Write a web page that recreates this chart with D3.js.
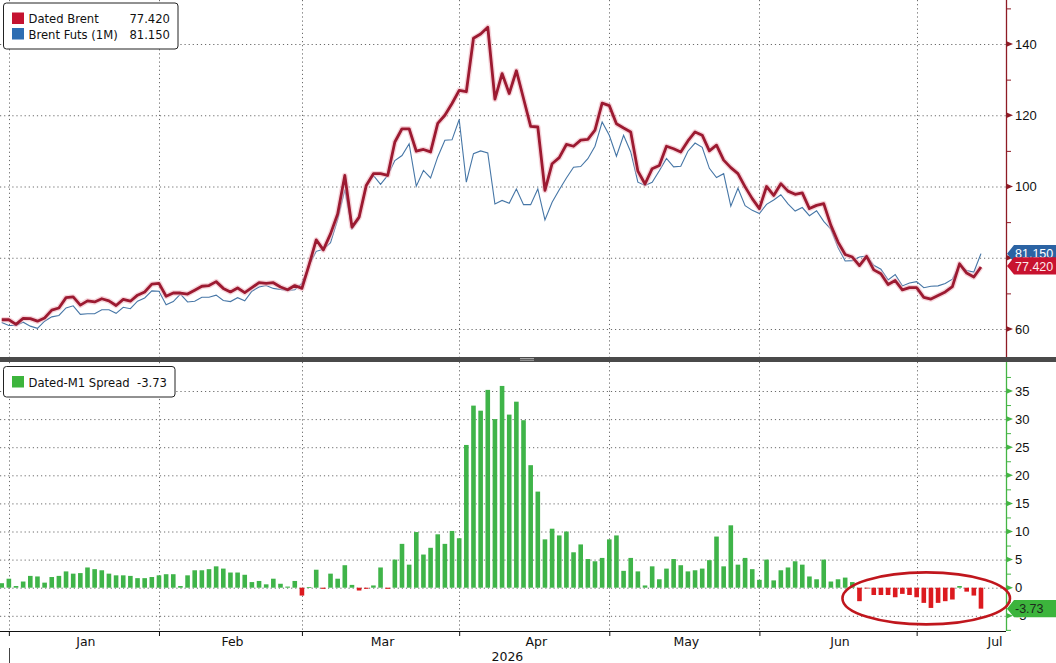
<!DOCTYPE html>
<html>
<head>
<meta charset="utf-8">
<script src="https://cdn.jsdelivr.net/npm/d3@7"></script>
<style>
  body { margin: 0; background: #fff; }
  svg { display: block; font-family: "DejaVu Sans", sans-serif; }
</style>
</head>
<body>
<svg id="chart" width="1056" height="663"></svg>
<script>
// values, one per trading day from 31 Dec 2025
var dated = [
  62.6, 62.6, 61.3, 63.0, 62.9, 62.2, 63.1, 65.3, 65.9, 68.8,
  69.0, 66.7, 67.9, 67.6, 68.5, 67.9, 66.6, 68.3, 67.8, 69.5,
  70.4, 72.6, 72.8, 69.2, 70.1, 70.1, 69.8, 70.9, 72.0, 72.2,
  73.3, 71.4, 70.4, 71.5, 70.2, 71.6, 73.0, 72.8, 73.0, 71.8,
  71.0, 72.2, 71.4, 78.0, 85.0, 82.2, 86.7, 92.3, 103.1, 88.6,
  91.4, 100.3, 103.6, 103.6, 103.1, 112.5, 116.2, 116.2, 109.9, 110.4,
  109.7, 117.7, 120.0, 123.3, 127.0, 126.6, 141.6, 142.8, 144.7, 124.5,
  131.7, 126.1, 132.5, 124.7, 116.9, 116.7, 98.9, 106.4, 108.1, 111.8,
  111.3, 113.0, 113.2, 115.8, 123.4, 122.7, 117.6, 116.4, 115.3, 104.3,
  100.7, 105.0, 105.9, 111.3, 110.6, 109.7, 112.8, 115.3, 114.4, 110.0,
  111.6, 107.4, 105.3, 103.6, 99.9, 96.6, 93.8, 100.0, 97.5, 100.8,
  98.7, 97.8, 98.2, 93.8, 94.7, 95.2, 89.1, 84.4, 80.9, 80.2,
  77.8, 80.4, 76.6, 75.5, 72.5, 73.6, 71.0, 71.6, 71.6, 68.9,
  68.4, 69.4, 70.4, 71.9, 78.3, 75.7, 74.6, 77.42
];
var futs = [
  61.8, 61.0, 61.0, 61.9, 60.8, 60.2, 62.2, 63.4, 63.8, 65.9,
  66.5, 64.1, 64.3, 64.3, 65.4, 65.4, 64.4, 66.1, 65.7, 67.8,
  68.7, 70.7, 70.6, 66.8, 67.7, 69.8, 67.6, 67.8, 68.9, 68.9,
  69.5, 68.0, 67.7, 68.8, 67.9, 70.6, 71.8, 72.2, 71.4, 71.1,
  70.8, 71.0, 72.8, 77.9, 81.8, 82.4, 84.2, 90.7, 99.1, 88.1,
  90.9, 100.6, 103.1, 100.6, 103.1, 107.3, 108.7, 112.0, 100.1, 104.5,
  102.4, 108.3, 113.0, 113.1, 118.8, 101.2, 109.2, 110.0, 109.4, 95.1,
  96.1, 95.3, 99.3, 94.9, 94.9, 99.3, 90.6, 95.6, 99.1, 102.4,
  105.4, 105.6, 107.8, 111.3, 118.1, 114.4, 108.5, 114.4, 109.7, 101.2,
  100.3, 101.2, 104.4, 107.9, 105.5, 105.7, 109.9, 112.2, 111.0, 105.1,
  102.5, 103.6, 94.5, 99.5, 94.6, 93.3, 92.4, 95.0, 96.2, 97.7,
  95.1, 93.1, 94.1, 91.8, 93.2, 90.2, 88.0, 82.9, 79.1, 79.2,
  80.2, 80.5, 77.9, 76.8, 73.8, 75.3, 72.1, 72.9, 73.3, 71.6,
  72.0, 72.1, 72.8, 74.0, 78.0, 76.4, 76.0, 81.15
];
var spread = [
  0.8, 1.6, 0.3, 1.1, 2.1, 2.0, 0.9, 1.9, 2.1, 2.9,
  2.5, 2.6, 3.6, 3.3, 3.1, 2.5, 2.2, 2.2, 2.1, 1.7,
  1.7, 1.9, 2.2, 2.4, 2.4, 0.3, 2.2, 3.1, 3.1, 3.3,
  3.8, 3.4, 2.7, 2.7, 2.3, 1.0, 1.2, 0.6, 1.6, 0.7,
  0.2, 1.2, -1.4, 0.1, 3.2, -0.2, 2.5, 1.6, 4.0, 0.5,
  -0.5, -0.2, 0.4, 3.6, -0.2, 5.0, 7.8, 4.1, 9.9, 5.9,
  7.1, 9.5, 7.8, 10.1, 8.8, 25.4, 32.4, 31.5, 35.2, 30.0,
  35.9, 30.8, 33.1, 29.8, 21.8, 17.1, 8.6, 10.5, 9.3, 10.0,
  6.3, 7.7, 5.1, 4.7, 5.3, 8.6, 9.3, 3.0, 5.3, 2.9,
  0.4, 3.8, 1.5, 3.4, 5.1, 4.0, 2.9, 3.1, 3.4, 4.9,
  9.1, 3.8, 11.1, 4.1, 5.3, 3.3, 1.4, 5.0, 1.3, 3.1,
  3.6, 4.7, 4.1, 2.0, 1.5, 5.0, 1.1, 1.5, 1.8, 1.0,
  -2.4, -0.1, -1.3, -1.3, -1.3, -1.7, -1.1, -1.3, -1.7, -2.7,
  -3.6, -2.7, -2.4, -2.1, 0.3, -0.7, -1.4, -3.73
];
var seriesNames = ["Dated Brent", "Brent Futs (1M)"];
var spreadName = "Dated-M1 Spread";
var priceTicks = [60, 80, 100, 120, 140];
var priceMinor = [70, 90, 110, 130, 150];
var spreadTicks = [-5, 0, 5, 10, 15, 20, 25, 30, 35];
var spreadMinor = [-7.5, -2.5, 2.5, 7.5, 12.5, 17.5, 22.5, 27.5, 32.5, 37.5];
var yearLabel = "2026";
var firstDay = new Date(2025, 11, 31);
var lastAxisDay = new Date(2026, 7, 3);
var holidays = ["2026-01-01", "2026-04-03"];

var fmtIso = d3.timeFormat("%Y-%m-%d");
var fmtMonth = d3.timeFormat("%b");
var loc = d3.formatLocale({ decimal: ".", thousands: ",", grouping: [3], currency: ["", ""], minus: "-" });
var f3 = loc.format(".3f"), f2 = loc.format(".2f"), f0 = loc.format("d");
var numFont = "Liberation Sans, Arial, sans-serif";

// trading-day calendar (weekdays minus exchange holidays)
var days = [];
for (var d = firstDay; d <= lastAxisDay; d = d3.timeDay.offset(d, 1)) {
  var wd = d.getDay();
  if (wd === 0 || wd === 6) continue;
  if (holidays.indexOf(fmtIso(d)) >= 0) continue;
  days.push(d);
}
var monthStarts = [];
days.forEach(function(day, i) {
  if (i > 0 && day.getMonth() !== days[i - 1].getMonth()) monthStarts.push(i);
});

var W = 1056, H = 663;
var xRight = 1006;
var top0 = 0, top1 = 357, bot0 = 362, bot1 = 631;

var x = d3.scaleLinear().domain([-0.24, 140.5]).range([0, xRight]);
var yT = d3.scaleLinear().domain([60, 140]).range([329, 44]);
var yB = d3.scaleLinear().domain([-5, 35]).range([615.8, 391]);

var visibleStarts = monthStarts.filter(function(i) { return x(i) <= xRight; });

var svg = d3.select("#chart");
var defs = svg.append("defs");
defs.append("clipPath").attr("id", "clipTop")
  .append("rect").attr("x", 0).attr("y", top0).attr("width", xRight).attr("height", top1 - top0);
defs.append("clipPath").attr("id", "clipBot")
  .append("rect").attr("x", 0).attr("y", bot0).attr("width", xRight).attr("height", bot1 - bot0);

var gridColor = "#6b6b6b";
var dash = "1.2,2.9";

// ---- top panel grid
var gTop = svg.append("g");
gTop.selectAll(".hg").data(priceTicks).enter().append("line")
  .attr("x1", 0).attr("x2", xRight)
  .attr("y1", function(v) { return yT(v) + 0.5; }).attr("y2", function(v) { return yT(v) + 0.5; })
  .attr("stroke", gridColor).attr("stroke-dasharray", dash);
gTop.selectAll(".vg").data(visibleStarts).enter().append("line")
  .attr("x1", function(i) { return Math.round(x(i)) + 0.5; })
  .attr("x2", function(i) { return Math.round(x(i)) + 0.5; })
  .attr("y1", top0).attr("y2", top1)
  .attr("stroke", gridColor).attr("stroke-dasharray", dash);

// ---- lines
var line = d3.line().x(function(v, i) { return x(i); });
var gLines = svg.append("g").attr("clip-path", "url(#clipTop)");
gLines.append("path").datum(futs)
  .attr("d", line.y(function(v) { return yT(v); }))
  .attr("fill", "none").attr("stroke", "#4676a6").attr("stroke-width", 1.1);
gLines.append("path").datum(dated)
  .attr("d", line.y(function(v) { return yT(v); }))
  .attr("fill", "none").attr("stroke", "#efb3bd").attr("stroke-width", 5.5)
  .attr("stroke-opacity", 0.55).attr("stroke-linejoin", "round");
gLines.append("path").datum(dated)
  .attr("d", line.y(function(v) { return yT(v); }))
  .attr("fill", "none").attr("stroke", "#9c1a31").attr("stroke-width", 2.8)
  .attr("stroke-linejoin", "round");

// ---- bottom panel grid
var gBot = svg.append("g");
gBot.selectAll(".hg").data(spreadTicks).enter().append("line")
  .attr("x1", 0).attr("x2", xRight)
  .attr("y1", function(v) { return yB(v) + 0.5; }).attr("y2", function(v) { return yB(v) + 0.5; })
  .attr("stroke", gridColor).attr("stroke-dasharray", dash);
gBot.selectAll(".vg").data(visibleStarts).enter().append("line")
  .attr("x1", function(i) { return Math.round(x(i)) + 0.5; })
  .attr("x2", function(i) { return Math.round(x(i)) + 0.5; })
  .attr("y1", bot0).attr("y2", bot1)
  .attr("stroke", gridColor).attr("stroke-dasharray", dash);

// ---- bars
var barW = 4.6;
svg.append("g").attr("clip-path", "url(#clipBot)")
  .selectAll("rect").data(spread).enter().append("rect")
  .attr("x", function(v, i) { return x(i) - barW / 2; })
  .attr("width", barW)
  .attr("y", function(v) { return yB(Math.max(0, v)); })
  .attr("height", function(v) { return Math.max(0.8, Math.abs(yB(v) - yB(0))); })
  .attr("fill", function(v) { return v >= 0 ? "#3fb449" : "#dc1a1f"; });

// ---- panel separator
svg.append("rect").attr("x", 0).attr("y", top1).attr("width", W).attr("height", bot0 - top1)
  .attr("fill", "#4a4a4a");
svg.append("rect").attr("x", 520).attr("y", top1 + 1.2).attr("width", 14).attr("height", 0.8).attr("fill", "#bdbdbd");
svg.append("rect").attr("x", 520).attr("y", top1 + 2.8).attr("width", 14).attr("height", 0.8).attr("fill", "#bdbdbd");

// ---- right axes
function rightAxis(scale, ticks, minor, color, y0, y1) {
  var g = svg.append("g");
  g.append("line").attr("x1", xRight + 0.5).attr("x2", xRight + 0.5).attr("y1", y0).attr("y2", y1)
    .attr("stroke", color).attr("stroke-width", 1.3);
  g.selectAll(".mt").data(minor.filter(function(v) { var p = scale(v); return p > y0 && p < y1; }))
    .enter().append("line")
    .attr("x1", xRight).attr("x2", xRight + 5)
    .attr("y1", function(v) { return scale(v) + 0.5; }).attr("y2", function(v) { return scale(v) + 0.5; })
    .attr("stroke", color);
  g.selectAll(".tri").data(ticks).enter().append("path")
    .attr("d", function(v) { var p = scale(v); return "M" + xRight + "," + (p - 3) + "L" + (xRight + 7) + "," + p + "L" + xRight + "," + (p + 3) + "Z"; })
    .attr("fill", color);
  var ax = g.append("g").attr("transform", "translate(" + (xRight + 4) + ",0)")
    .call(d3.axisRight(scale).tickValues(ticks).tickSize(0).tickPadding(5).tickFormat(f0));
  ax.select(".domain").remove();
  ax.selectAll("text").attr("font-size", 13).attr("fill", "#111")
    .attr("font-family", numFont);
  return g;
}
rightAxis(yT, priceTicks, priceMinor, "#8e1b25", top0, top1);
rightAxis(yB, spreadTicks, spreadMinor, "#44b544", bot0, bot1);

// ---- bottom time axis
var gx = svg.append("g").attr("transform", "translate(0," + bot1 + ")")
  .call(d3.axisBottom(x).tickValues(visibleStarts).tickSize(5).tickFormat(""));
gx.select(".domain").attr("d", "M0,0.5H" + xRight).attr("stroke", "#111");
gx.selectAll(".tick line").attr("stroke", "#111");

var monthLabels = visibleStarts.map(function(s) {
  var next = monthStarts[monthStarts.indexOf(s) + 1];
  var cx = (x(s) + x(next)) / 2;
  return { text: fmtMonth(days[s]), cx: Math.min(cx, xRight - 13) };
});
svg.append("g").selectAll("text").data(monthLabels).enter().append("text")
  .attr("x", function(m) { return m.cx + 2; }).attr("y", bot1 + 15)
  .attr("text-anchor", "middle").attr("font-size", 12.5).attr("fill", "#111")
  .text(function(m) { return m.text; });

var yearStart = visibleStarts[0];
svg.append("line").attr("x1", Math.round(x(yearStart)) + 0.5).attr("x2", Math.round(x(yearStart)) + 0.5)
  .attr("y1", bot1 + 17).attr("y2", H).attr("stroke", "#444");
svg.append("text").attr("x", (x(yearStart) + xRight) / 2).attr("y", bot1 + 30)
  .attr("text-anchor", "middle").attr("font-size", 12.5).attr("fill", "#111").text(yearLabel);

// ---- legends
function legend(y0, rows, width) {
  var g = svg.append("g");
  g.append("rect").attr("x", 3.5).attr("y", y0 + 0.5).attr("width", width).attr("height", rows.length * 15.5 + 15)
    .attr("rx", 3).attr("fill", "#fff").attr("stroke", "#222");
  rows.forEach(function(r, k) {
    var yy = y0 + 10 + k * 15.5;
    g.append("rect").attr("x", 12).attr("y", yy).attr("width", 12).attr("height", 11.5).attr("fill", r.color);
    g.append("text").attr("x", 28.5).attr("y", yy + 10.5).attr("font-size", 11.6).attr("fill", "#111").text(r.name);
    g.append("text").attr("x", width - 4.5).attr("y", yy + 10.5).attr("font-size", 11.6).attr("fill", "#111")
      .attr("text-anchor", "end").text(r.value);
  });
}
legend(2.5, [
  { name: seriesNames[0], value: f3(dated[dated.length - 1]), color: "#c41230" },
  { name: seriesNames[1], value: f3(futs[futs.length - 1]), color: "#2d6db2" }
], 174.5);
legend(366, [
  { name: spreadName, value: f2(spread[spread.length - 1]), color: "#3cb43c" }
], 171.5);

// ---- last-value tags
function tag(yv, fill, text, textColor) {
  var h = 8.6;
  svg.append("path")
    .attr("d", "M" + (xRight + 1) + "," + yv + "L" + (xRight + 8) + "," + (yv - h) + "L" + W + "," + (yv - h) +
      "L" + W + "," + (yv + h) + "L" + (xRight + 8) + "," + (yv + h) + "Z")
    .attr("fill", fill);
  svg.append("text").attr("x", xRight + 9).attr("y", yv + 4.6).attr("font-size", 12.5)
    .attr("font-family", numFont).attr("fill", textColor).text(text);
}
tag(yT(futs[futs.length - 1]), "#2b63a3", f3(futs[futs.length - 1]), "#fff");
tag(yT(dated[dated.length - 1]) - 1, "#c8122f", f3(dated[dated.length - 1]), "#fde9ec");
tag(yB(spread[spread.length - 1]), "#3cb43c", f2(spread[spread.length - 1]), "#1d2a1d");

// ---- annotation ring round the negative run
var ringFrom = 120, ringTo = 137;
svg.append("ellipse")
  .attr("cx", (x(ringFrom) + x(ringTo)) / 2 + 6)
  .attr("cy", yB(-1.9))
  .attr("rx", (x(ringTo) - x(ringFrom)) / 2 + 23)
  .attr("ry", 26)
  .attr("fill", "none").attr("stroke", "#c0161d").attr("stroke-width", 2.6);
</script>
</body>
</html>
